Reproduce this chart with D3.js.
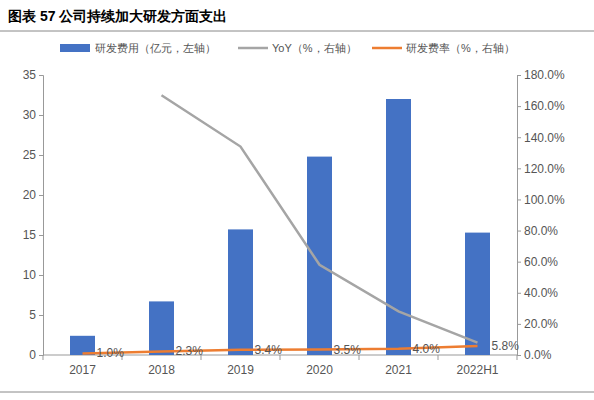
<!DOCTYPE html><html><head><meta charset="utf-8"><script src="https://cdn.jsdelivr.net/npm/d3@7"></script>
<style>body{margin:0;background:#fff}text{font-family:"Liberation Sans",Arial,sans-serif}</style></head><body><svg width="594" height="400"></svg><script>
const categories=["2017","2018","2019","2020","2021","2022H1"];
const rdExpense=[2.4,6.7,15.7,24.8,32.0,15.3];
const yoy=[null,167,134,58,28,8];
const rdRate=[1.0,2.3,3.4,3.5,4.0,5.8];
const leftTicks=[0,5,10,15,20,25,30,35];
const rightTicks=[0,20,40,60,80,100,120,140,160,180];
const svg=d3.select("svg");
const L=43,R=517,T=75,B=355;
const x=d3.scaleBand().domain(categories).range([L,R]);
const yl=d3.scaleLinear().domain([0,35]).range([B,T]);
const yr=d3.scaleLinear().domain([0,180]).range([B,T]);
svg.append("text").attr("x",8).attr("y",21).attr("font-size",14).attr("font-weight","bold").attr("font-family","Noto Sans CJK SC").text("图表 57  公司持续加大研发方面支出");
svg.append("line").attr("x1",0).attr("x2",594).attr("y1",31).attr("y2",31).attr("stroke","#888");
svg.append("line").attr("x1",0).attr("x2",594).attr("y1",392).attr("y2",392).attr("stroke","#888");
const gl=svg.append("g").attr("transform",`translate(${L},0)`).call(d3.axisLeft(yl).tickValues(leftTicks).tickSize(4));
const gr=svg.append("g").attr("transform",`translate(${R},0)`).call(d3.axisRight(yr).tickValues(rightTicks).tickSize(4).tickFormat(d=>d.toFixed(1)+"%"));
const gx=svg.append("g").attr("transform",`translate(0,${B})`).call(d3.axisBottom(x).tickSize(0).tickPadding(10));
gx.selectAll(".tick").append("line").attr("x1",x.bandwidth()/2).attr("x2",x.bandwidth()/2).attr("y1",0).attr("y2",5).attr("stroke","#999");
gx.append("line").attr("x1",L).attr("x2",L).attr("y1",0).attr("y2",5).attr("stroke","#999");
[gl,gr,gx].forEach(g=>{g.selectAll("path,line").attr("stroke","#999");g.selectAll("text").attr("font-size",12).attr("fill","#555").attr("font-family","Liberation Sans")});
gx.select(".domain").attr("d",`M${L},0H${R}`);
const bw=25;
svg.selectAll(".bar").data(rdExpense).join("rect").attr("x",(d,i)=>x(categories[i])+x.bandwidth()/2-bw/2).attr("width",bw).attr("y",d=>yl(d)).attr("height",d=>B-yl(d)).attr("fill","#4472C4");
const cx=(i)=>x(categories[i])+x.bandwidth()/2;
svg.append("path").attr("d",d3.line().defined(d=>d!=null).x((d,i)=>cx(i)).y(d=>yr(d))(yoy)).attr("fill","none").attr("stroke","#A5A5A5").attr("stroke-width",2.5);
svg.append("path").attr("d",d3.line().x((d,i)=>cx(i)).y(d=>yr(d))(rdRate)).attr("fill","none").attr("stroke","#ED7D31").attr("stroke-width",2.5);
svg.selectAll(".lbl").data(rdRate).join("text").attr("x",(d,i)=>cx(i)+14).attr("y",d=>yr(d)+4).attr("font-size",12).attr("fill","#555").text(d=>d.toFixed(1)+"%");
const lg=svg.append("g").attr("font-size",11).attr("fill","#555");
lg.append("rect").attr("x",60).attr("y",44).attr("width",30).attr("height",8).attr("fill","#4472C4");
lg.append("text").attr("x",95).attr("y",52).attr("font-family","Noto Sans CJK SC").attr("font-size",11).attr("fill","#555").text("研发费用（亿元，左轴）");
lg.append("line").attr("x1",238).attr("x2",268).attr("y1",48).attr("y2",48).attr("stroke","#A5A5A5").attr("stroke-width",2.5);
lg.append("text").attr("x",272).attr("y",52).attr("font-family","Noto Sans CJK SC").attr("font-size",11).attr("fill","#555").text("YoY（%，右轴）");
lg.append("line").attr("x1",372).attr("x2",402).attr("y1",48).attr("y2",48).attr("stroke","#ED7D31").attr("stroke-width",2.5);
lg.append("text").attr("x",406).attr("y",52).attr("font-family","Noto Sans CJK SC").attr("font-size",11).attr("fill","#555").text("研发费率（%，右轴）");
</script></body></html>
